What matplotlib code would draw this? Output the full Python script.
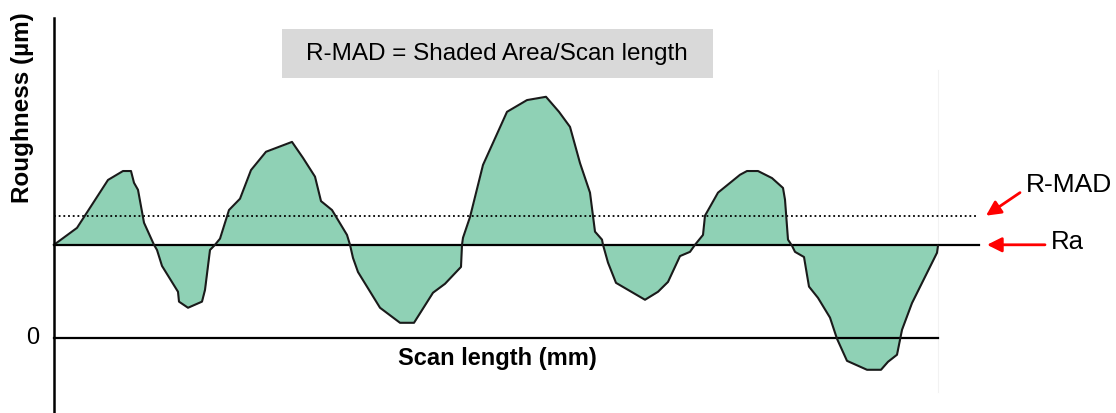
import matplotlib
matplotlib.use("Agg")
import matplotlib.pyplot as plt
from matplotlib.patches import Rectangle

plt.rcParams["font.family"] = ["Liberation Sans", "DejaVu Sans"]

# surface profile (scan length in mm, height in um)
scan_mm = [0.00, 0.23, 0.54, 0.69, 0.77, 0.80, 0.84, 0.90, 1.00, 1.03,
           1.08, 1.24, 1.25, 1.34, 1.48, 1.51, 1.56, 1.61, 1.66, 1.75,
           1.86, 1.97, 2.12, 2.38, 2.49, 2.61, 2.67, 2.78, 2.93, 2.96,
           2.99, 3.04, 3.26, 3.46, 3.60, 3.79, 3.91, 4.07, 4.08, 4.09,
           4.16, 4.29, 4.39, 4.53, 4.73, 4.92, 5.05, 5.16, 5.26, 5.36,
           5.41, 5.48, 5.49, 5.54, 5.62, 5.91, 6.04, 6.14, 6.26, 6.36,
           6.41, 6.49, 6.51, 6.64, 6.86, 6.93, 7.04, 7.18, 7.29, 7.31,
           7.34, 7.38, 7.41, 7.50, 7.53, 7.55, 7.64, 7.76, 7.83, 7.93,
           8.13, 8.27, 8.34, 8.43, 8.48, 8.58, 8.83, 8.84]
height_um = [1.98, 2.34, 3.36, 3.55, 3.55, 3.30, 3.15, 2.45, 1.98, 1.87,
             1.53, 0.98, 0.77, 0.64, 0.77, 1.02, 1.87, 1.98, 2.11, 2.72,
             2.96, 3.57, 3.96, 4.17, 3.83, 3.43, 2.91, 2.72, 2.19, 1.98,
             1.70, 1.40, 0.64, 0.32, 0.32, 0.96, 1.15, 1.51, 1.98, 2.13,
             2.57, 3.68, 4.15, 4.81, 5.06, 5.13, 4.81, 4.49, 3.72, 3.09,
             2.26, 2.09, 1.98, 1.60, 1.17, 0.81, 0.98, 1.19, 1.74, 1.83,
             1.98, 2.19, 2.60, 3.09, 3.47, 3.55, 3.55, 3.40, 3.19, 2.94,
             2.09, 1.96, 1.83, 1.72, 1.34, 1.09, 0.85, 0.43, -0.02, -0.49,
             -0.68, -0.68, -0.51, -0.36, 0.17, 0.74, 1.81, 1.96]

RA = 1.98
R_MAD = 2.60

FILL = "#8fd1b5"

fig = plt.figure(figsize=(11.16, 4.13), dpi=100)
ax = fig.add_axes([0, 0, 1, 1])
ax.set_xlim(-0.54, 10.62)
ax.set_ylim(-1.60, 7.19)
ax.axis("off")

x_end = scan_mm[-1]

# shaded area between profile and Ra
ax.fill_between(scan_mm, height_um, RA, color=FILL, lw=0, zorder=1)
ax.plot(scan_mm, height_um, color="#1a1a1a", lw=1.5, zorder=3)

# reference lines
ax.plot([0, 9.25], [RA, RA], color="black", lw=1.6, zorder=2)
ax.plot([0, 9.23], [R_MAD, R_MAD], color="black", lw=1.3, ls=(0, (1, 1.6)), zorder=2)
ax.plot([0, x_end], [0, 0], color="black", lw=1.6, zorder=2)
ax.plot([0, 0], [-1.60, 6.81], color="black", lw=1.8, zorder=4)
ax.plot([x_end, x_end], [-1.15, 5.70], color="#f2f2f2", lw=0.8, zorder=0)

# red arrows and labels
arrow = dict(arrowstyle="-|>", color="red", lw=2, mutation_scale=22, shrinkA=0, shrinkB=0)
ax.annotate("", xy=(9.32, R_MAD), xytext=(9.66, 3.09), arrowprops=arrow)
ax.annotate("", xy=(9.33, RA), xytext=(9.91, RA), arrowprops=arrow)
ax.text(9.72, 3.26, "R-MAD", fontsize=19, ha="left", va="center")
ax.text(9.97, 2.04, "Ra", fontsize=18.5, ha="left", va="center")

# formula box
ax.add_patch(Rectangle((2.28, 5.53), 4.31, 1.04, facecolor="#d9d9d9", edgecolor="none", zorder=1))
ax.text(4.43, 6.05, "R-MAD = Shaded Area/Scan length", fontsize=17.5, ha="center", va="center")

# axis labels
ax.text(-0.21, 0, "0", fontsize=17, ha="center", va="center")
ax.text(-0.32, 4.89, "Roughness (µm)", fontsize=17.5, fontweight="bold",
        rotation=90, ha="center", va="center")
ax.text(4.43, -0.45, "Scan length (mm)", fontsize=17, fontweight="bold",
        ha="center", va="center")

fig.savefig("out.png", dpi=100)
